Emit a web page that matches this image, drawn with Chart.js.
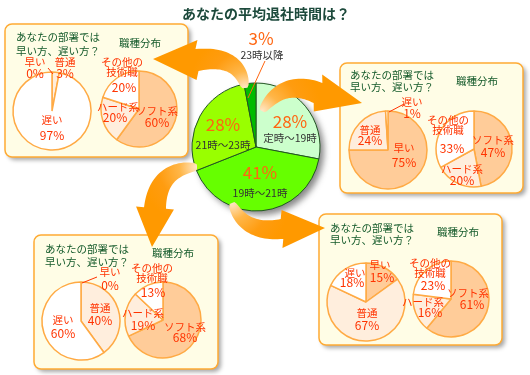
<!DOCTYPE html>
<html>
<head>
<meta charset="utf-8">
<script src="https://cdn.jsdelivr.net/npm/chart.js@4.4.1/dist/chart.umd.min.js"></script>
<style>
body { margin: 0; background: #fff; }
#wrap { position: relative; width: 530px; height: 375px; overflow: hidden; }
#wrap canvas { position: absolute; }
</style>
</head>
<body>
<div id="wrap">
  <canvas id="bg" width="530" height="375" style="left:0;top:0"></canvas>
</div>
<script>
// main pie: average leaving time
const timeNames = [['定時～19時'], ['19時～21時'], ['21時～23時'], ['23時以降']];
const timeShares = [28, 41, 28, 3];

// "is your department early or late?"
const speedNames = [['早い'], ['普通'], ['遅い']];
// job type distribution
const jobNames = [['ソフト系'], ['ハード系'], ['その他の', '技術職']];

// one pair per slice of the main pie
const speedAfter23 = [0, 3, 97];
const jobAfter23 = [60, 20, 20];
const speedTo19 = [75, 24, 1];
const jobTo19 = [47, 20, 33];
const speedTo23 = [0, 40, 60];
const jobTo23 = [68, 19, 13];
const speedTo21 = [15, 67, 18];
const jobTo21 = [61, 16, 23];

const FONT = '"Noto Sans CJK JP", "Noto Sans CJK SC", sans-serif';
const wrap = document.getElementById('wrap');

// label plugin: places text relative to the pie centre
const sliceText = {
  id: 'sliceText',
  afterDatasetsDraw(chart, args, opts) {
    const arc = chart.getDatasetMeta(0).data[0];
    const cx = arc.x, cy = arc.y;
    const ctx = chart.ctx;
    const values = chart.data.datasets[0].data;
    ctx.save();
    ctx.textAlign = 'center';
    ctx.textBaseline = 'middle';
    opts.names.forEach((lines, i) => {
      const p = opts.place[i];
      ctx.fillStyle = opts.nameColor;
      ctx.font = opts.nameFont;
      lines.forEach((s, k) => ctx.fillText(s, cx + p.n[0], cy + p.n[1] + k * 10));
      ctx.fillStyle = opts.pctColor;
      ctx.font = opts.pctFont;
      ctx.fillText(values[i] + '%', cx + p.p[0], cy + p.p[1]);
      if (p.lead) {
        ctx.strokeStyle = opts.pctColor;
        ctx.lineWidth = 1;
        ctx.beginPath();
        ctx.moveTo(cx + p.lead[0], cy + p.lead[1]);
        ctx.lineTo(cx + p.lead[2], cy + p.lead[3]);
        ctx.stroke();
      }
    });
    ctx.restore();
  }
};

function makePie(center, size, radius, data, colors, border, bw, labelOpts) {
  const c = document.createElement('canvas');
  c.width = size[0];
  c.height = size[1];
  c.style.left = (center[0] - size[0] / 2) + 'px';
  c.style.top = (center[1] - size[1] / 2) + 'px';
  wrap.appendChild(c);
  return new Chart(c.getContext('2d'), {
    type: 'pie',
    data: {
      labels: labelOpts.names.map(l => l.join('')),
      datasets: [{
        data: data,
        backgroundColor: colors,
        borderColor: border,
        borderWidth: bw
      }]
    },
    options: {
      responsive: false,
      animation: false,
      radius: radius,
      layout: { padding: 0 },
      plugins: {
        legend: { display: false },
        tooltip: { enabled: false },
        sliceText: labelOpts
      }
    },
    plugins: [sliceText]
  });
}

const speedColors = ['#ffcc99', '#ffeedd', '#ffffff'];
const jobColors = ['#ffcc99', '#ffeedd', '#ffffff'];
const smallText = {
  nameColor: '#ff3300', pctColor: '#ff3300',
  nameFont: '10.5px ' + FONT, pctFont: '12px ' + FONT
};

// panels: box, heading positions, pie centres and label placement
const panels = [
  {
    box: [5, 24, 183, 133], q: [16, 37, 14], job: [140, 43],
    sc: [52, 111], jc: [139, 109], speed: speedAfter23, jobs: jobAfter23,
    sp: [{n: [-17, -49], p: [-17, -38], lead: [-4, -43, 1, -37]}, {n: [13, -49], p: [13, -38]}, {n: [0, 9], p: [0, 24]}],
    jp: [{n: [18, 2], p: [18, 13]}, {n: [-21, -2], p: [-24, 8]}, {n: [-17, -47], p: [-15, -22]}]
  },
  {
    box: [340, 63, 183, 130], q: [350, 75, 12], job: [477, 81],
    sc: [388, 150], jc: [474, 149], speed: speedTo19, jobs: jobTo19,
    sp: [{n: [16, -2], p: [16, 12]}, {n: [-18, -20], p: [-18, -10]}, {n: [24, -48], p: [24, -37], lead: [1, -38, 16, -46]}],
    jp: [{n: [19, -9], p: [19, 3]}, {n: [-12, 20], p: [-12, 31]}, {n: [-26, -29], p: [-22, -1]}]
  },
  {
    box: [34, 235, 184, 134], q: [45, 249, 13], job: [173, 253],
    sc: [81, 321], jc: [163, 320], speed: speedTo23, jobs: jobTo23,
    sp: [{n: [29, -49], p: [29, -36], lead: [1, -38, 16, -44]}, {n: [19, -13], p: [19, -1]}, {n: [-18, -1], p: [-18, 12]}],
    jp: [{n: [22, 7], p: [22, 17]}, {n: [-20, -7], p: [-20, 5]}, {n: [-11, -52], p: [-10, -28]}]
  },
  {
    box: [319, 214, 183, 131], q: [330, 228, 12], job: [458, 232],
    sc: [366, 302], jc: [451, 299], speed: speedTo21, jobs: jobTo21,
    sp: [{n: [14, -37], p: [16, -25]}, {n: [1, 11], p: [1, 23]}, {n: [-11, -29], p: [-14, -20]}],
    jp: [{n: [17, -6], p: [21, 5]}, {n: [-28, 3], p: [-21, 13]}, {n: [-21, -36], p: [-18, -14]}]
  }
];

// background: title, panel boxes, main pie shadow
const bg = document.getElementById('bg').getContext('2d');
bg.fillStyle = '#fff';
bg.fillRect(0, 0, 530, 375);
bg.fillStyle = '#1d4a3c';
bg.font = 'bold 14px ' + FONT;
bg.textAlign = 'center';
bg.textBaseline = 'middle';
bg.fillText('あなたの平均退社時間は？', 266, 14);

function roundRect(ctx, x, y, w, h, r) {
  ctx.beginPath();
  ctx.moveTo(x + r, y);
  ctx.arcTo(x + w, y, x + w, y + h, r);
  ctx.arcTo(x + w, y + h, x, y + h, r);
  ctx.arcTo(x, y + h, x, y, r);
  ctx.arcTo(x, y, x + w, y, r);
  ctx.closePath();
}

panels.forEach(pn => {
  const [x, y, w, h] = pn.box;
  bg.save();
  bg.shadowColor = 'rgba(0,0,0,0.35)';
  bg.shadowBlur = 4;
  bg.shadowOffsetX = 3;
  bg.shadowOffsetY = 3;
  roundRect(bg, x, y, w, h, 7);
  bg.fillStyle = '#fffde6';
  bg.fill();
  bg.restore();
  roundRect(bg, x, y, w, h, 7);
  bg.strokeStyle = '#ffaa33';
  bg.lineWidth = 1.5;
  bg.stroke();
  bg.fillStyle = '#145a2a';
  bg.font = '10.5px ' + FONT;
  bg.textAlign = 'left';
  bg.fillText('あなたの部署では', pn.q[0], pn.q[1]);
  bg.fillText('早い方、遅い方？', pn.q[0], pn.q[1] + pn.q[2]);
  bg.textAlign = 'center';
  bg.fillText('職種分布', pn.job[0], pn.job[1]);
});

// main pie drop shadow
bg.save();
bg.filter = 'blur(3px)';
bg.fillStyle = 'rgba(40,40,40,0.55)';
bg.beginPath();
bg.arc(260, 151, 64, 0, Math.PI * 2);
bg.fill();
bg.restore();

// main pie
makePie([256, 147], [220, 250], 64, timeShares,
  ['#ccffcc', '#66ff00', '#99ff00', '#00bb00'], '#225522', 1, {
    names: timeNames,
    nameColor: '#333333', pctColor: '#ff6611',
    nameFont: '10.5px ' + FONT, pctFont: '17px ' + FONT,
    place: [
      {n: [34, -9], p: [34, -25]},
      {n: [4, 46], p: [4, 26]},
      {n: [-33, -2], p: [-33, -22]},
      {n: [6, -92], p: [5, -108], lead: [9, -86, -8, -49]}
    ]
  });

// small pies
panels.forEach(pn => {
  makePie(pn.sc, [140, 140], 39, pn.speed, speedColors, '#ffaa44', 1.5,
    Object.assign({names: speedNames, place: pn.sp}, smallText));
  makePie(pn.jc, [140, 140], 38, pn.jobs, jobColors, '#ffaa44', 1.5,
    Object.assign({names: jobNames, place: pn.jp}, smallText));
});

// arrows on top
const fxc = document.createElement('canvas');
fxc.width = 530;
fxc.height = 375;
fxc.style.left = '0px';
fxc.style.top = '0px';
wrap.appendChild(fxc);
const fx = fxc.getContext('2d');

const arrows = [
  {tail: [245, 88], ctrl: [240, 54], base: [197, 60], tip: [153, 59], w0: 2.5, w1: 11, hw: 20},
  {tail: [262, 111], ctrl: [283, 78], base: [318, 93], tip: [362, 103], w0: 2.5, w1: 11, hw: 19},
  {tail: [197, 167], ctrl: [158, 168], base: [155, 208], tip: [152, 247], w0: 2.5, w1: 11, hw: 19},
  {tail: [232, 203], ctrl: [244, 234], base: [282, 229], tip: [325, 228], w0: 2.5, w1: 10, hw: 19}
];

function drawArrow(ctx, a) {
  const [tx, ty] = a.tail, [cx, cy] = a.ctrl, [bx, by] = a.base, [hx, hy] = a.tip;
  const left = [], right = [];
  const n = 30;
  for (let i = 0; i <= n; i++) {
    const t = i / n, u = 1 - t;
    const x = u * u * tx + 2 * u * t * cx + t * t * bx;
    const y = u * u * ty + 2 * u * t * cy + t * t * by;
    const dx = 2 * u * (cx - tx) + 2 * t * (bx - cx);
    const dy = 2 * u * (cy - ty) + 2 * t * (by - cy);
    const l = Math.hypot(dx, dy);
    const w = a.w0 + (a.w1 - a.w0) * Math.sqrt(t);
    left.push([x - dy / l * w, y + dx / l * w]);
    right.push([x + dy / l * w, y - dx / l * w]);
  }
  const hdx = hx - bx, hdy = hy - by, hl = Math.hypot(hdx, hdy);
  const px = -hdy / hl, py = hdx / hl;
  ctx.beginPath();
  left.forEach(([x, y], i) => i ? ctx.lineTo(x, y) : ctx.moveTo(x, y));
  ctx.lineTo(bx + px * a.hw, by + py * a.hw);
  ctx.lineTo(hx, hy);
  ctx.lineTo(bx - px * a.hw, by - py * a.hw);
  right.reverse().forEach(([x, y]) => ctx.lineTo(x, y));
  ctx.closePath();
  // pale near the tail, full orange towards the head
  const R = Math.hypot(bx - tx, by - ty);
  const g = ctx.createRadialGradient(tx, ty, 0, tx, ty, R);
  g.addColorStop(0, '#ffe8c8');
  g.addColorStop(0.3, '#ffb648');
  g.addColorStop(0.65, '#ff9c10');
  g.addColorStop(1, '#ff9900');
  ctx.fillStyle = g;
  ctx.fill();
}

arrows.forEach(a => drawArrow(fx, a));
</script>
</body>
</html>
